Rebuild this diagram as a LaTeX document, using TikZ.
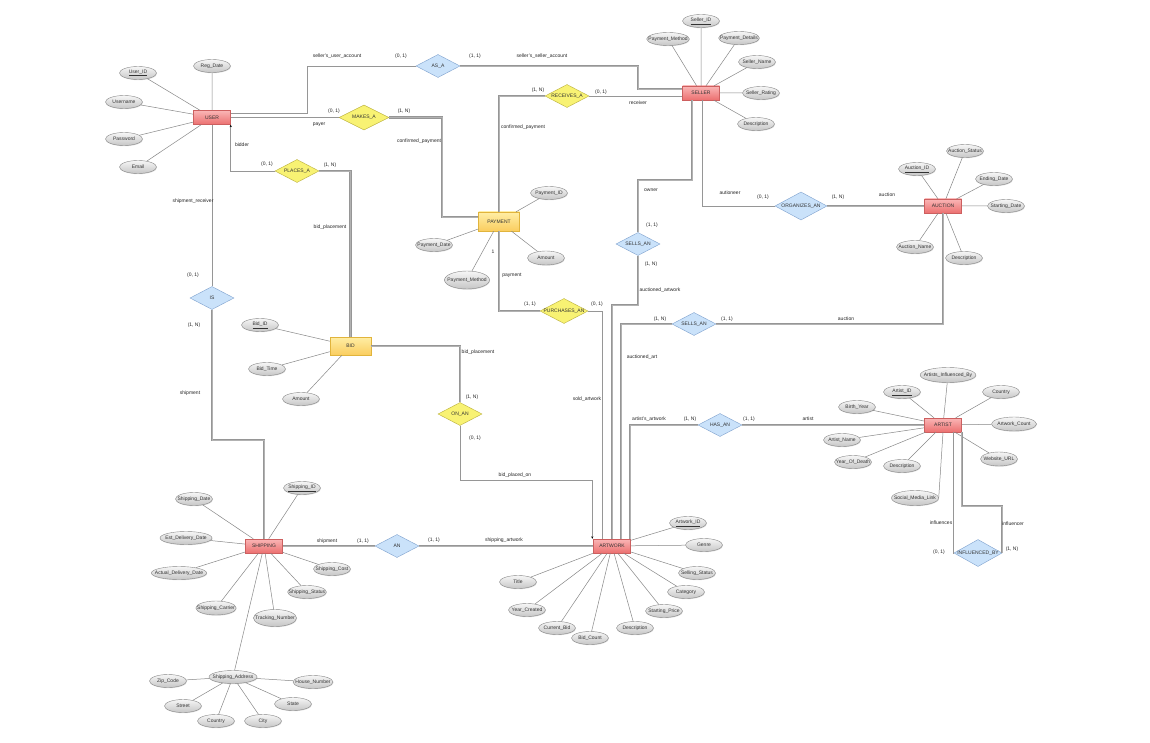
\documentclass[tikz,border=0pt]{standalone}
\usepackage{fontspec}
\setmainfont{Liberation Sans}
\usetikzlibrary{arrows.meta,shapes.geometric,shadows}
\definecolor{entred}{RGB}{236,112,112}
\definecolor{entredtop}{RGB}{250,182,182}
\definecolor{entredline}{RGB}{205,95,95}
\definecolor{weaktop}{RGB}{255,238,165}
\definecolor{weakbot}{RGB}{250,205,95}
\definecolor{weakline}{RGB}{225,180,60}
\definecolor{relyellow}{RGB}{248,242,115}
\definecolor{relyellowline}{RGB}{185,175,60}
\definecolor{relblue}{RGB}{202,226,250}
\definecolor{relblueline}{RGB}{125,160,205}
\definecolor{attrtop}{RGB}{246,246,246}
\definecolor{attrbot}{RGB}{198,198,198}
\definecolor{attrline}{RGB}{135,135,135}
\definecolor{connline}{RGB}{150,150,150}
\definecolor{connmid}{RGB}{178,178,178}

\tikzset{
  erfont/.style={font=\fontsize{5}{6}\selectfont},
  entity/.style={rectangle, draw=entredline, top color=entredtop, bottom color=entred,
    minimum width=37pt, minimum height=14pt, inner sep=0pt, erfont, text=black!80,
    drop shadow={shadow xshift=0.6pt, shadow yshift=-0.8pt, opacity=0.25}},
  weak/.style={entity, draw=weakline, top color=weaktop, bottom color=weakbot,
    minimum width=41pt, minimum height=19pt},
  rel/.style={diamond, minimum width=44pt, minimum height=23pt, inner sep=0pt,
    label={[erfont, text=black!80]center:#1}},
  relY/.style={rel=#1, draw=relyellowline, fill=relyellow},
  relB/.style={rel=#1, draw=relblueline, fill=relblue},
  attr/.style={ellipse, draw=attrline, top color=attrtop, bottom color=attrbot,
    minimum width=37pt, minimum height=13pt, inner xsep=-4.5pt, inner ysep=0pt,
    erfont, text=black!80,
    drop shadow={shadow xshift=0.5pt, shadow yshift=-0.7pt, opacity=0.25}},
  lbl/.style={erfont, text=black!85, inner sep=0.5pt},
  partial/.style={draw=connline, line width=0.7pt},
  total/.style={draw=connline, line width=0.75pt, double=connmid, double distance=0.8pt},
  attrl/.style={draw=attrline, line width=0.5pt},
  tip/.style={-{Stealth[length=2.5pt, width=2.2pt, color=black]}}
}

\begin{document}
\begin{tikzpicture}[x=1pt, y=-1pt]
  \useasboundingbox (0,0) rectangle (1150,743);
  \fill[white] (0,0) rectangle (1150,743);

  % Entities
  \node[entity] (user) at (212,117.5) {USER};
  \node[entity] (seller) at (701,93) {SELLER};
  \node[entity] (auction) at (943,206) {AUCTION};
  \node[entity] (artist) at (943,425) {ARTIST};
  \node[entity] (artwork) at (612,546) {ARTWORK};
  \node[entity] (shipping) at (264,546) {SHIPPING};
  \node[weak] (payment) at (499,221.5) {PAYMENT};
  \node[weak, minimum height=18pt] (bid) at (350.5,346) {BID};

  % Relationships
  \node[relB=AS\_A] (asa) at (438,66) {};
  \node[relY=MAKES\_A, minimum width=50pt, minimum height=25pt] (makesa) at (364,117.5) {};
  \node[relY=RECEIVES\_A] (receivesa) at (567,96) {};
  \node[relY=PLACES\_A] (placesa) at (297,171) {};
  \node[relB=ORGANIZES\_AN, minimum width=52pt, minimum height=28pt] (organizesan) at (801,206) {};
  \node[relB=SELLS\_AN] (sellsan) at (638,244) {};
  \node[relB=IS] (is) at (212,298) {};
  \node[relY=PURCHASES\_AN, minimum width=48pt, minimum height=25pt] (purchasesan) at (564,311) {};
  \node[relB=SELLS\_AN] (sellsantwo) at (694,324) {};
  \node[relY=ON\_AN] (onan) at (460,414) {};
  \node[relB=HAS\_AN] (hasan) at (720,425) {};
  \node[relB=AN] (an) at (397,546) {};
  \node[relB=INFLUENCED\_BY, minimum width=48pt, minimum height=27pt] (influencedby) at (978,553) {};

  % User attributes
  \node[attr] (userid) at (138,73) {\underline{User\_ID}};
  \node[attr] (regdate) at (212,66) {Reg\_Date};
  \node[attr] (username) at (124,102) {Username};
  \node[attr] (password) at (124,139) {Password};
  \node[attr] (email) at (138,167) {Email};
  % Seller attributes
  \node[attr] (sellerid) at (701,21) {\underline{Seller\_ID}};
  \node[attr] (spaymethod) at (668,39) {Payment\_Method};
  \node[attr] (spaydetails) at (739,38) {Payment\_Details};
  \node[attr] (sellername) at (757,62) {Seller\_Name};
  \node[attr] (sellerrating) at (761,93) {Seller\_Rating};
  \node[attr] (sdesc) at (756,124) {Description};
  % Payment attributes
  \node[attr] (paymentid) at (549,193) {Payment\_ID};
  \node[attr] (paymentdate) at (434,245) {Payment\_Date};
  \node[attr, minimum width=45pt, minimum height=18pt] (paymentmethod) at (467,280) {Payment\_Method};
  \node[attr, minimum height=14pt] (pamount) at (546,258) {Amount};
  % Auction attributes
  \node[attr] (auctionid) at (917,169) {\underline{Auction\_ID}};
  \node[attr] (auctionstatus) at (965,151) {Auction\_Status};
  \node[attr] (endingdate) at (994,179) {Ending\_Date};
  \node[attr] (startingdate) at (1006,206) {Starting\_Date};
  \node[attr] (auctionname) at (915,247) {Auction\_Name};
  \node[attr] (adesc) at (964,258) {Description};
  % Bid attributes
  \node[attr] (bidid) at (260,325) {\underline{Bid\_ID}};
  \node[attr] (bidtime) at (267,369) {Bid\_Time};
  \node[attr] (bamount) at (301,399) {Amount};
  % Artist attributes
  \node[attr, minimum height=15pt] (artistsinfl) at (948,375) {Artists\_Influenced\_By};
  \node[attr] (artistid) at (902,392) {\underline{Artist\_ID}};
  \node[attr] (acountry) at (1001,392) {Country};
  \node[attr] (birthyear) at (857,407) {Birth\_Year};
  \node[attr, minimum width=45pt, minimum height=14pt] (artworkcount) at (1014,424) {Artwork\_Count};
  \node[attr] (artistname) at (842,440) {Artist\_Name};
  \node[attr] (yearofdeath) at (853,462) {Year\_Of\_Death};
  \node[attr] (artdesc) at (902,466) {Description};
  \node[attr, minimum height=14pt] (websiteurl) at (999,459) {Website\_URL};
  \node[attr, minimum width=47pt, minimum height=15pt] (socialmedia) at (915,498) {Social\_Media\_Link};
  % Artwork attributes
  \node[attr] (artworkid) at (688,523) {\underline{Artwork\_ID}};
  \node[attr] (genre) at (704,545) {Genre};
  \node[attr] (sellingstatus) at (697,573) {Selling\_Status};
  \node[attr] (category) at (686,592) {Category};
  \node[attr] (startingprice) at (664,611) {Starting\_Price};
  \node[attr] (awdesc) at (635,628) {Description};
  \node[attr] (bidcount) at (590,638) {Bid\_Count};
  \node[attr] (currentbid) at (557,628) {Current\_Bid};
  \node[attr] (yearcreated) at (527,610) {Year\_Created};
  \node[attr] (title) at (518,582) {Title};
  % Shipping attributes
  \node[attr] (shippingid) at (302,488) {\underline{Shipping\_ID}};
  \node[attr] (shippingdate) at (194,499) {Shipping\_Date};
  \node[attr, minimum width=52pt] (estdelivery) at (186,538) {Est\_Delivery\_Date};
  \node[attr, minimum width=52pt] (actualdelivery) at (179,573) {Actual\_Delivery\_Date};
  \node[attr, minimum height=14pt] (carrier) at (216,608) {Shipping\_Carrier};
  \node[attr, minimum height=17pt] (tracking) at (275,618) {Tracking\_Number};
  \node[attr] (shipstatus) at (307,592) {Shipping\_Status};
  \node[attr] (shipcost) at (332,569) {Shipping\_Cost};
  \node[attr, minimum width=48pt] (shipaddress) at (233,677) {Shipping\_Address};
  \node[attr] (zipcode) at (168,681) {Zip\_Code};
  \node[attr, minimum width=40pt] (housenumber) at (313,682) {House\_Number};
  \node[attr] (street) at (183,706) {Street};
  \node[attr] (state) at (293,704) {State};
  \node[attr] (scountry) at (216,721) {Country};
  \node[attr] (city) at (263,721) {City};

  % Attribute links
  \draw[attrl] (user) -- (userid) (user) -- (regdate) (user) -- (username)
    (user) -- (password) (user) -- (email);
  \draw[attrl] (seller) -- (sellerid) (seller) -- (spaymethod) (seller) -- (spaydetails)
    (seller) -- (sellername) (seller) -- (sellerrating) (seller) -- (sdesc);
  \draw[attrl] (payment) -- (paymentid) (payment) -- (paymentdate)
    (payment) -- (paymentmethod) (payment) -- (pamount);
  \draw[attrl] (auction) -- (auctionid) (auction) -- (auctionstatus) (auction) -- (endingdate)
    (auction) -- (startingdate) (auction) -- (auctionname) (auction) -- (adesc);
  \draw[attrl] (bid) -- (bidid) (bid) -- (bidtime) (bid) -- (bamount);
  \draw[attrl] (artist) -- (artistsinfl) (artist) -- (artistid) (artist) -- (acountry)
    (artist) -- (birthyear) (artist) -- (artworkcount) (artist) -- (artistname)
    (artist) -- (yearofdeath) (artist) -- (artdesc) (artist) -- (websiteurl)
    (artist.south) -- (socialmedia.east);
  \draw[attrl] (artwork) -- (artworkid) (artwork) -- (genre) (artwork) -- (sellingstatus)
    (artwork) -- (category) (artwork) -- (startingprice) (artwork) -- (awdesc)
    (artwork) -- (bidcount) (artwork) -- (currentbid) (artwork) -- (yearcreated)
    (artwork) -- (title);
  \draw[attrl] (shipping) -- (shippingid) (shipping) -- (shippingdate)
    (shipping) -- (estdelivery) (shipping) -- (actualdelivery) (shipping) -- (carrier)
    (shipping) -- (tracking) (shipping) -- (shipstatus) (shipping) -- (shipcost)
    (shipping) -- (shipaddress);
  \draw[attrl] (shipaddress) -- (zipcode) (shipaddress) -- (housenumber)
    (shipaddress) -- (street) (shipaddress) -- (state) (shipaddress) -- (scountry)
    (shipaddress) -- (city);

  % Relationship links
  \draw[partial] ([yshift=4pt]user.east) -- ++(77,0) |- (asa.west);
  \draw[total] (asa.east) -- ++(178,0) |- ([yshift=4pt]seller.west);
  \draw[partial] (user.east) -- (makesa.west);
  \draw[total] (makesa.east) -- ++(53,0) |- ([yshift=4.5pt]payment.west);
  \draw[total] (receivesa.west) -| (payment.north);
  \draw[partial] (receivesa.east) -- (receivesa.east -| seller.west);
  \draw[partial, tip] (placesa.west) -| (user.south east);
  \draw[total] (placesa.east) -| (bid.north);
  \draw[partial] (user.south) -- (is.north);
  \draw[total] (is.south) -- ++(0,130.5) -| (shipping.north);
  \draw[total] (shipping.east) -- (an.west);
  \draw[total] (an.east) -- (artwork.west);
  \draw[total] (bid.east) -| (onan.north);
  \draw[partial, tip] (onan.south) -- ++(0,54.5) -| ([xshift=-1pt]artwork.north west);
  \draw[total] (payment.south) |- (purchasesan.west);
  \draw[partial] (purchasesan.east) -| ([xshift=-10pt]artwork.north);
  \draw[total] ([xshift=-9pt]seller.south) -- ++(0,80) -| (sellsan.north);
  \draw[total] (sellsan.south) -- ++(0,49.5) -| (artwork.north);
  \draw[partial] ([xshift=1pt]seller.south) |- (organizesan.west);
  \draw[total] (organizesan.east) -- (auction.west);
  \draw[total] (auction.south) |- (sellsantwo.east);
  \draw[total] (sellsantwo.west) -| ([xshift=9pt]artwork.north);
  \draw[total] (hasan.east) -- (artist.west);
  \draw[total] (hasan.west) -| ([xshift=18pt]artwork.north);
  \draw[partial] ([xshift=10pt]artist.south) |- (influencedby.west);
  \draw[total] (artist.south east) -- ++(0,74) -| (influencedby.east);

  % Role names and cardinalities
  \node[lbl] (lsua) at (337,56) {seller's\_user\_account};
  \node[lbl] (casa1) at (401,56) {(0, 1)};
  \node[lbl] (casa2) at (475,56) {(1, 1)};
  \node[lbl] (lssa) at (542,56) {seller's\_seller\_account};
  \node[lbl] (cmak1) at (334,111) {(0, 1)};
  \node[lbl] (cmak2) at (404,111) {(1, N)};
  \node[lbl] (lpayer) at (319,125) {payer};
  \node[lbl] (lconf1) at (419,141) {confirmed\_payment};
  \node[lbl] (crec1) at (538,90) {(1, N)};
  \node[lbl] (crec2) at (601,92) {(0, 1)};
  \node[lbl] (lconf2) at (523,127) {confirmed\_payment};
  \node[lbl] (lrecv) at (638,103) {receiver};
  \node[lbl] (lbidder) at (242,145) {bidder};
  \node[lbl] (cpla1) at (267,164) {(0, 1)};
  \node[lbl] (cpla2) at (330,165) {(1, N)};
  \node[lbl] (lshr) at (193,201) {shipment\_receiver};
  \node[lbl] (lbpl1) at (330,227) {bid\_placement};
  \node[lbl] (cis1) at (193,275) {(0, 1)};
  \node[lbl] (cis2) at (194,325) {(1, N)};
  \node[lbl] (lship1) at (190,393) {shipment};
  \node[lbl] (lbpl2) at (478,352) {bid\_placement};
  \node[lbl] (con1) at (472,397) {(1, N)};
  \node[lbl] (con2) at (475,438) {(0, 1)};
  \node[lbl] (lbpo) at (515,475) {bid\_placed\_on};
  \node[lbl] (lone) at (493,252) {1};
  \node[lbl] (lpay) at (512,275) {payment};
  \node[lbl] (cpur1) at (530,304) {(1, 1)};
  \node[lbl] (cpur2) at (597,304) {(0, 1)};
  \node[lbl] (lauct1) at (730,193) {autioneer};
  \node[lbl] (corg1) at (763,197) {(0, 1)};
  \node[lbl] (corg2) at (838,197) {(1, N)};
  \node[lbl] (lauc1) at (887,195) {auction};
  \node[lbl] (lowner) at (651,190) {owner};
  \node[lbl] (csel1) at (652,225) {(1, 1)};
  \node[lbl] (csel2) at (651,264) {(1, N)};
  \node[lbl] (lauaw) at (660,290) {auctioned\_artwork};
  \node[lbl] (csell1) at (660,319) {(1, N)};
  \node[lbl] (csell2) at (727,319) {(1, 1)};
  \node[lbl] (lauc2) at (846,319) {auction};
  \node[lbl] (lauart) at (642,357) {auctioned\_art};
  \node[lbl] (lsold) at (587,399) {sold\_artwork};
  \node[lbl] (lartaw) at (649,419) {artist's\_artwork};
  \node[lbl] (chas1) at (690,419) {(1, N)};
  \node[lbl] (chas2) at (749,419) {(1, 1)};
  \node[lbl] (lartist) at (808,419) {artist};
  \node[lbl] (linfl1) at (941,523) {influences};
  \node[lbl] (linfl2) at (1013,524) {influencer};
  \node[lbl] (cinf1) at (939,552) {(0, 1)};
  \node[lbl] (cinf2) at (1012,549) {(1, N)};
  \node[lbl] (lship2) at (327,541) {shipment};
  \node[lbl] (can1) at (363,541) {(1, 1)};
  \node[lbl] (can2) at (434,540) {(1, 1)};
  \node[lbl] (lshaw) at (504,540) {shipping\_artwork};
\end{tikzpicture}
\end{document}
